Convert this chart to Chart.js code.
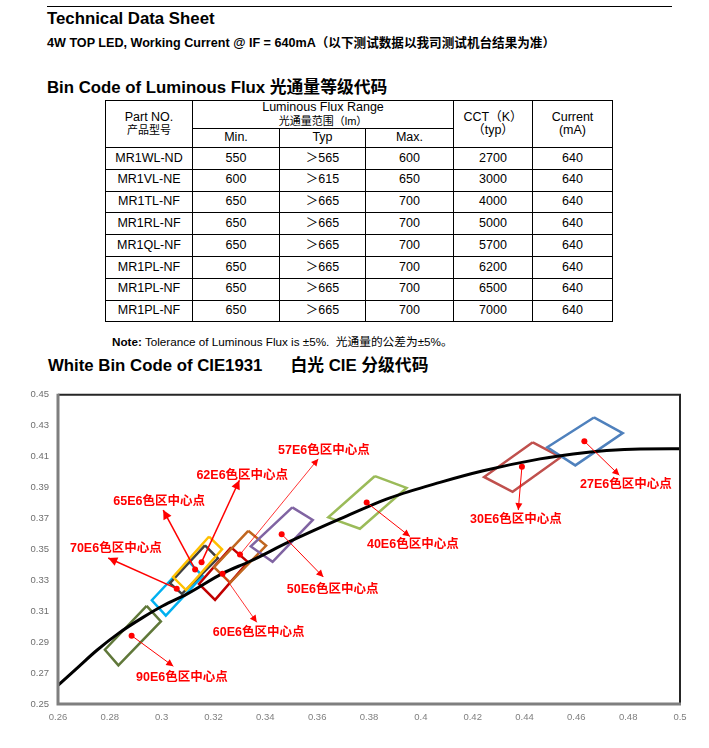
<!DOCTYPE html>
<html>
<head>
<meta charset="utf-8">
<script src="https://cdn.jsdelivr.net/npm/chart.js@4.4.1/dist/chart.umd.min.js"></script>
<style>
body { margin:0; background:#fff; }
#page { position:relative; width:709px; height:748px; overflow:hidden; font-family:"Liberation Sans","Noto Sans CJK SC",sans-serif; color:#000; }
.t { position:absolute; white-space:nowrap; }
.h1 { font-size:16.8px; font-weight:bold; line-height:20px; }
.sub { font-size:12.6px; font-weight:bold; line-height:14px; }
#rule { position:absolute; left:47px; top:6px; width:625px; border-top:1px solid #000; }
#tbl { position:absolute; left:105px; top:100px; border-collapse:collapse; font-size:12.5px; table-layout:fixed; }
#tbl td { border:1px solid #000; text-align:center; padding:0; line-height:13.5px; }
#tbl .cn { font-size:11px; }
#note { font-size:11.7px; line-height:14px; }
#wrap { position:absolute; left:0; top:380px; width:709px; height:368px; }
</style>
</head>
<body>
<div id="page">
  <div id="rule"></div>
  <div class="t h1" style="left:47px;top:9px;">Technical Data Sheet</div>
  <div class="t sub" style="left:47px;top:36px;">4W TOP LED, Working Current @ IF = 640mA（以下测试数据以我司测试机台结果为准）</div>
  <div class="t h1" style="left:47px;top:78px;">Bin Code of Luminous Flux 光通量等级代码</div>

  <table id="tbl">
    <colgroup><col style="width:87px"><col style="width:87px"><col style="width:86px"><col style="width:88px"><col style="width:79px"><col style="width:80px"></colgroup>
    <tr style="height:28px"><td rowspan="2">Part NO.<br><span class="cn">产品型号</span></td><td colspan="3">Luminous Flux Range<br><span class="cn">光通量范围（lm）</span></td><td rowspan="2">CCT（K）<br>（typ）</td><td rowspan="2">Current<br>(mA)</td></tr>
    <tr style="height:19px"><td>Min.</td><td>Typ</td><td>Max.</td></tr>
    <tbody id="rows"></tbody>
  </table>

  <div class="t" id="note" style="left:112px;top:335px;"><b>Note:</b> Tolerance of Luminous Flux is ±5%.&nbsp; 光通量的公差为±5%。</div>
  <div class="t h1" style="left:48px;top:356px;">White Bin Code of CIE1931 &nbsp;&nbsp;&nbsp;&nbsp;&nbsp;白光 CIE 分级代码</div>

  <div id="wrap"><canvas id="stage" width="709" height="368"></canvas></div>
</div>

<script>
// 表の中身
var partNo = ["MR1WL-ND","MR1VL-NE","MR1TL-NF","MR1RL-NF","MR1QL-NF","MR1PL-NF","MR1PL-NF","MR1PL-NF"];
var fluxMin = [550,600,650,650,650,650,650,650];
var fluxTyp = ["＞565","＞615","＞665","＞665","＞665","＞665","＞665","＞665"];
var fluxMax = [600,650,700,700,700,700,700,700];
var cct = [2700,3000,4000,5000,5700,6200,6500,7000];
var current = [640,640,640,640,640,640,640,640];

// CIE chart data
var xTicks = [0.26,0.28,0.30,0.32,0.34,0.36,0.38,0.40,0.42,0.44,0.46,0.48,0.50];
var yTicks = [0.25,0.27,0.29,0.31,0.33,0.35,0.37,0.39,0.41,0.43,0.45];

// black locus line
var curveX = [0.2601,0.2678,0.2749,0.2832,0.2928,0.3005,0.3097,0.3237,0.3341,0.3495,0.3688,0.3881,0.4074,0.4241,0.4460,0.4588,0.4717,0.4846,0.5000];
var curveY = [0.2622,0.2739,0.2846,0.2955,0.3060,0.3135,0.3210,0.3346,0.3423,0.3551,0.3697,0.3833,0.3933,0.4008,0.4085,0.4117,0.4139,0.4149,0.4150];

var binNames = ["27E6","30E6","40E6","50E6","57E6","60E6","62E6","65E6","70E6","90E6"];
var binBoxes = [
  [[0.4668,0.4353],[0.4779,0.4252],[0.4596,0.4043],[0.4488,0.4160]],
  [[0.4432,0.4192],[0.4540,0.4096],[0.4354,0.3872],[0.4244,0.3968]],
  [[0.3823,0.3974],[0.3945,0.3897],[0.3765,0.3633],[0.3643,0.3707]],
  [[0.3504,0.3771],[0.3583,0.3690],[0.3428,0.3419],[0.3344,0.3519]],
  [[0.3334,0.3620],[0.3403,0.3524],[0.3264,0.3284],[0.3202,0.3385]],
  [[0.3268,0.3513],[0.3333,0.3417],[0.3206,0.3173],[0.3144,0.3276]],
  [[0.3183,0.3583],[0.3233,0.3500],[0.3094,0.3237],[0.3044,0.3321]],
  [[0.3167,0.3526],[0.3217,0.3442],[0.3078,0.3212],[0.3032,0.3282]],
  [[0.3103,0.3423],[0.3158,0.3327],[0.3016,0.3071],[0.2962,0.3171]],
  [[0.2942,0.3135],[0.2997,0.3034],[0.2833,0.2750],[0.2781,0.2851]]
];
var binCenters = [[0.4631,0.4199],[0.4390,0.4034],[0.3791,0.3803],[0.3463,0.3598],[0.3302,0.3466],
                  [0.3235,0.3342],[0.3154,0.3417],[0.3129,0.3370],[0.3058,0.3246],[0.2884,0.2942]];
// 注釈の文字の位置と矢印の先
var labelAt = [[0.4791,0.3921],[0.4367,0.3694],[0.3969,0.3534],[0.3660,0.3242],[0.3626,0.4139],
               [0.3374,0.2963],[0.3311,0.3979],[0.2990,0.3808],[0.2823,0.3508],[0.3078,0.2669]];
var arrowTo = [[0.4766,0.3979],[0.4376,0.3754],[0.3958,0.3583],[0.3624,0.3321],[0.3604,0.4085],
               [0.3367,0.3028],[0.3300,0.3947],[0.3006,0.3754],[0.2794,0.3444],[0.3045,0.2744]];

var binColors = ["#4f81bd","#c0504d","#9bbb59","#8064a2","#c0661f","#c00000","#ffc000","#404040","#00b0f0","#60783a"];
var arrowWidth = [1,1,1,1,0.8,0.8,1.5,1.5,1.5,1];

// table rows
var rowsHtml = "";
for (var i = 0; i < partNo.length; i++) {
   rowsHtml += '<tr style="height:21.8px"><td>' + partNo[i] + '</td><td>' + fluxMin[i] + '</td><td>' + fluxTyp[i] +
      '</td><td>' + fluxMax[i] + '</td><td>' + cct[i] + '</td><td>' + current[i] + '</td></tr>';
}
document.getElementById("rows").innerHTML = rowsHtml;

// datasets
var datasets = [];
datasets.push({
   label: "curve",
   data: curveX.map(function(x, i){ return {x: x, y: curveY[i]}; }),
   showLine: true, borderColor: "#000", borderWidth: 3, pointRadius: 0,
   cubicInterpolationMode: "monotone", order: 2
});
for (var b = 0; b < binNames.length; b++) {
   var pts = binBoxes[b].map(function(p){ return {x: p[0], y: p[1]}; });
   pts.push(pts[0]);
   datasets.push({
      label: binNames[b],
      data: pts, showLine: true, borderColor: binColors[b], borderWidth: 2.5,
      pointRadius: 0, tension: 0, order: 10 + b
   });
   datasets.push({
      label: binNames[b] + " arrow",
      data: [{x: binCenters[b][0], y: binCenters[b][1]}, {x: arrowTo[b][0], y: arrowTo[b][1]}],
      showLine: true, borderColor: "#ff0000", borderWidth: arrowWidth[b], pointRadius: 0, order: 1
   });
}
datasets.push({
   label: "centers",
   data: binCenters.map(function(p){ return {x: p[0], y: p[1]}; }),
   showLine: false, pointRadius: 3, pointBackgroundColor: "#ff0000", pointBorderWidth: 0, order: 0
});

var notes = {
   id: "notes",
   afterDatasetsDraw: function(chart) {
      var ctx = chart.ctx;
      var sx = chart.scales.x, sy = chart.scales.y;
      var a = chart.chartArea;
      ctx.save();
      // 枠
      ctx.lineWidth = 2;
      ctx.strokeStyle = "#262626";
      ctx.beginPath();
      ctx.moveTo(a.left, a.top); ctx.lineTo(a.right, a.top); ctx.lineTo(a.right, a.bottom);
      ctx.stroke();
      ctx.lineWidth = 3;
      ctx.strokeStyle = "#7f7f7f";
      ctx.beginPath();
      ctx.moveTo(a.left, a.top - 1); ctx.lineTo(a.left, a.bottom); ctx.lineTo(a.right + 1, a.bottom);
      ctx.stroke();
      // 矢印と文字
      ctx.fillStyle = "#ff0000";
      for (var i = 0; i < binNames.length; i++) {
         var x0 = sx.getPixelForValue(binCenters[i][0]), y0 = sy.getPixelForValue(binCenters[i][1]);
         var x1 = sx.getPixelForValue(arrowTo[i][0]), y1 = sy.getPixelForValue(arrowTo[i][1]);
         var ang = Math.atan2(y1 - y0, x1 - x0);
         var len = arrowWidth[i] > 1.2 ? 9 : 7, hw = arrowWidth[i] > 1.2 ? 4.5 : 3.5;
         ctx.beginPath();
         ctx.moveTo(x1, y1);
         ctx.lineTo(x1 - len * Math.cos(ang) + hw * Math.sin(ang), y1 - len * Math.sin(ang) - hw * Math.cos(ang));
         ctx.lineTo(x1 - len * Math.cos(ang) - hw * Math.sin(ang), y1 - len * Math.sin(ang) + hw * Math.cos(ang));
         ctx.closePath();
         ctx.fill();
         ctx.font = 'bold 12.5px "Liberation Sans", "Noto Sans CJK SC", sans-serif';
         ctx.textAlign = "center";
         ctx.textBaseline = "middle";
         ctx.fillText(binNames[i] + "色区中心点", sx.getPixelForValue(labelAt[i][0]), sy.getPixelForValue(labelAt[i][1]));
      }
      ctx.restore();
   }
};

var tickFont = {family: '"Liberation Sans", sans-serif', size: 9.5};
var chart = new Chart(document.getElementById("stage"), {
   type: "scatter",
   data: {datasets: datasets},
   options: {
      responsive: false, animation: false,
      layout: {padding: {top: 12, right: 29, left: 0, bottom: 0}},
      plugins: {legend: {display: false}, tooltip: {enabled: false}},
      scales: {
         x: {
            type: "linear", min: 0.26, max: 0.5,
            grid: {display: false, drawTicks: false}, border: {display: false},
            afterBuildTicks: function(s){ s.ticks = xTicks.map(function(v){ return {value: v}; }); },
            afterFit: function(s){ s.height = 44; },
            ticks: {color: "#7f7f7f", font: tickFont, padding: 8, maxRotation: 0, autoSkip: false,
               callback: function(v){ return String(+v.toFixed(2)); }}
         },
         y: {
            type: "linear", min: 0.25, max: 0.45,
            grid: {display: false, drawTicks: false}, border: {display: false},
            afterBuildTicks: function(s){ s.ticks = yTicks.map(function(v){ return {value: v}; }); },
            afterFit: function(s){ s.width = 58; },
            ticks: {color: "#6f6f6f", font: tickFont, padding: 9, autoSkip: false,
               callback: function(v){ return v.toFixed(2); }}
         }
      }
   },
   plugins: [notes]
});
</script>
</body>
</html>
